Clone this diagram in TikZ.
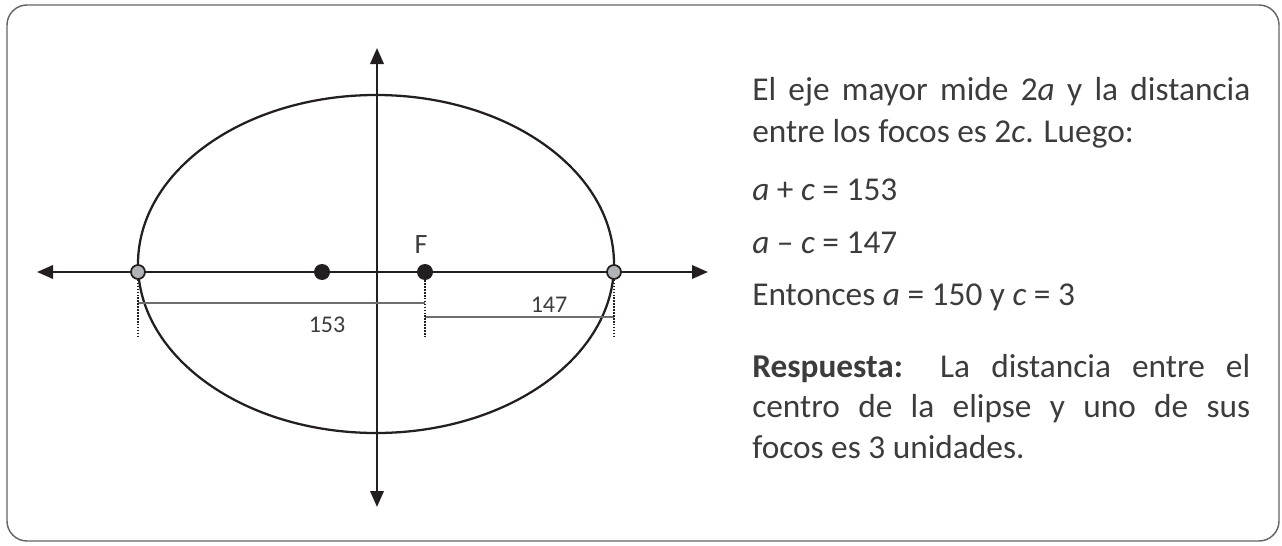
\documentclass[tikz,border=0pt]{standalone}
\usepackage{fontspec}
\setmainfont{Carlito}
\usetikzlibrary{arrows.meta}

\definecolor{ink}{HTML}{231F20}
\definecolor{dimgray}{HTML}{6D6E71}
\definecolor{vtxgray}{HTML}{B1B3B6}
\definecolor{txtgray}{HTML}{3C3C3C}

\tikzset{
  axis/.style={ink, line width=1.9pt, {Triangle[length=12pt,width=10pt]}-{Triangle[length=12pt,width=10pt]}},
  vertex/.style={circle, draw=ink, fill=vtxgray, line width=1.3pt, minimum size=10.5pt, inner sep=0pt},
  focus/.style={circle, fill=ink, minimum size=12pt, inner sep=0pt},
  dotline/.style={ink, line width=2.2pt, dash pattern=on 1.2pt off 1pt},
  dimline/.style={dimgray, line width=1.7pt},
  lbl/.style={inner sep=0pt, text=txtgray, font=\fontsize{18}{20}\selectfont},
  txt/.style={inner sep=0pt, text=txtgray, text width=373.5pt, align=justify},
  eqn/.style={inner sep=0pt, text=txtgray, font=\fontsize{25}{31}\selectfont}
}

\begin{document}
\begin{tikzpicture}[x=0.75pt,y=-0.75pt]
\useasboundingbox (0,0) rectangle (1282,546);
\draw[gray!80!black, line width=1.1pt, rounded corners=15pt] (7,5) rectangle (1279,541);

% ellipse and axes
\draw[ink, line width=1.7pt] (376,264) ellipse [x radius=238, y radius=169];
\coordinate (xl) at (37,272);
\coordinate (xr) at (708,272);
\coordinate (yt) at (377,48);
\coordinate (yb) at (377,507);
\draw[axis] (xl) -- (xr);
\draw[axis] (yt) -- (yb);

% dimension lines
\coordinate (v1b) at (138,337);
\coordinate (f2b) at (425,337);
\coordinate (v2b) at (614,337);
\coordinate (m1) at (138,303);
\coordinate (m2) at (425,303);
\coordinate (n1) at (425,317);
\coordinate (n2) at (614,317);
\draw[dimline] (m1) -- (m2);
\draw[dimline] (n1) -- (n2);

\node[vertex] (v1) at (138,272) {};
\node[vertex] (v2) at (614,272) {};
\node[focus] (f1) at (322,272) {};
\node[focus] (f2) at (425,272) {};
\draw[dotline] (v1) -- (v1b);
\draw[dotline] (f2) -- (f2b);
\draw[dotline] (v2) -- (v2b);

\node[lbl, font=\fontsize{21}{24}\selectfont] (flbl) at (421,245) {F};
\node[lbl] (l153) at (327,325) {153};
\node[lbl] (l147) at (549,305) {147};

% text
\node[txt, font=\fontsize{25}{32}\selectfont, anchor=base west] (par1) at (752,100) {El eje mayor mide 2\textit{a} y la distancia\linebreak entre los focos es 2\textit{c}. Luego:};
\node[eqn, anchor=base west] (eq1) at (752,200) {\textit{a} + \textit{c} = 153};
\node[eqn, anchor=base west] (eq2) at (752,253) {\textit{a} -- \textit{c} = 147};
\node[eqn, anchor=base west] (eq3) at (752,305) {Entonces \textit{a} = 150 y \textit{c} = 3};
\node[txt, font=\fontsize{25}{30.4}\selectfont, anchor=base west] (resp) at (752,377) {\textbf{Respuesta:} La distancia entre el\linebreak centro de la elipse y uno de sus\linebreak focos es 3 unidades.};
\end{tikzpicture}
\end{document}
